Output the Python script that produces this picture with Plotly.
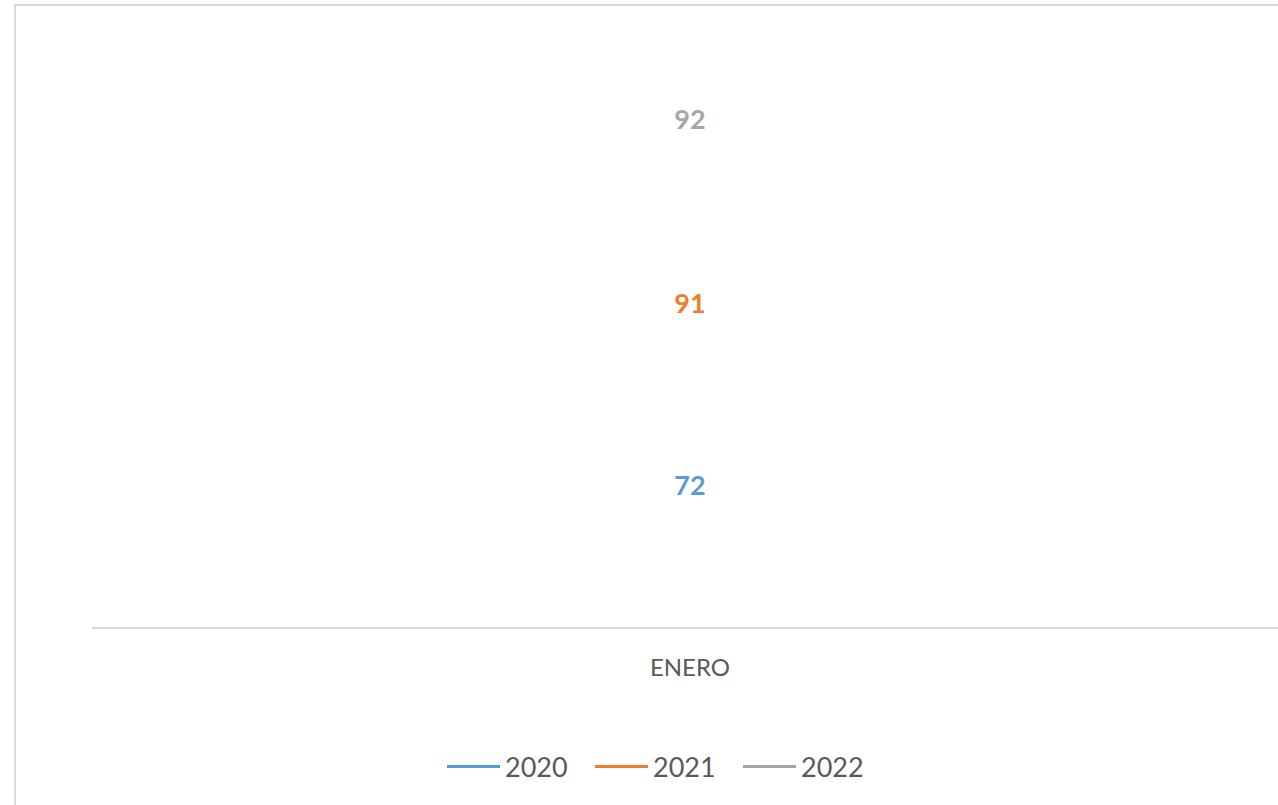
import plotly.graph_objects as go

categories = ["ENERO"]
series_names = ["2020", "2021", "2022"]
values_2020 = [72]
values_2021 = [91]
values_2022 = [92]
colors = ["#5b9bd5", "#ed7d31", "#a5a5a5"]

W, H = 1278, 805
L, R, T, B = 92, 0, 27, 178
pw, ph = W - L - R, H - T - B

fig = go.Figure()
for name, vals, col in zip(series_names, [values_2020, values_2021, values_2022], colors):
    fig.add_trace(go.Scatter(
        x=categories, y=vals, name=name,
        mode="lines+text", stackgroup="one", fill="none",
        line=dict(color=col, width=3),
        text=[str(v) for v in vals], textposition="middle center",
        textfont=dict(family="Lato", size=27, color=col, weight="bold"),
        hoverinfo="skip",
    ))

# chart border (top and left edges visible)
fig.add_shape(type="rect", xref="paper", yref="paper",
              x0=(15 - L) / pw, x1=(1300 - L) / pw,
              y0=(627 - 830) / ph, y1=(627 - 5) / ph,
              line=dict(color="#d9d9d9", width=2), layer="below")

fig.update_layout(
    width=W, height=H,
    margin=dict(l=L, r=R, t=T, b=B),
    paper_bgcolor="white", plot_bgcolor="white",
    showlegend=True,
    legend=dict(orientation="h", x=(664 - L) / pw, xanchor="center",
                y=(627 - 767) / ph, yanchor="middle",
                font=dict(family="Lato", size=27, color="#595959"),
                itemwidth=53, entrywidth=80, entrywidthmode="pixels",
                traceorder="normal"),
    xaxis=dict(type="category", range=[-0.5, -0.5 + pw / 1196],
               showline=True, linecolor="#d9d9d9", linewidth=2,
               showgrid=False, zeroline=False, ticks="",
               ticklabelstandoff=18,
               tickfont=dict(family="Lato", size=24, color="#595959")),
    yaxis=dict(range=[2.5, 302.5], visible=False, showgrid=False, zeroline=False),
)

fig.write_html("out.html", config={"displayModeBar": False},
               post_script="document.body.style.margin='0';")
